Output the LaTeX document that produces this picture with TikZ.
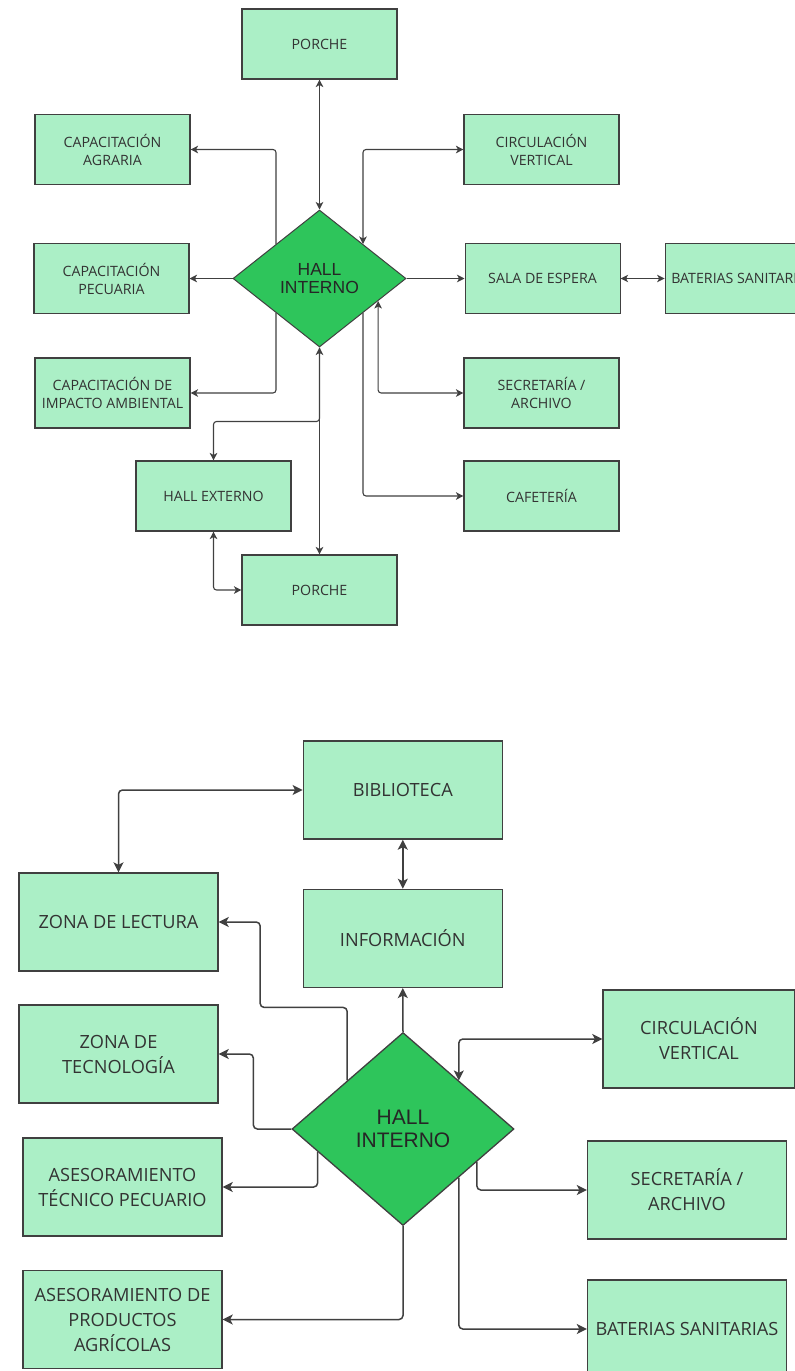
\documentclass[tikz,border=0pt]{standalone}
\usepackage{fontspec}
\setmainfont{Open Sans}
\newfontfamily\hallfont{Liberation Sans}
\usetikzlibrary{arrows.meta,positioning,shapes.geometric}
\definecolor{boxgreen}{HTML}{ABEFC6}
\definecolor{hubgreen}{HTML}{2EC55B}
\definecolor{lnk}{HTML}{404040}
\definecolor{txt}{HTML}{333333}
\begin{document}
\begin{tikzpicture}[x=1pt, y=-1pt,
  bx/.style={draw=lnk, fill=boxgreen, line width=1.1pt, align=center, inner sep=0pt,
             minimum width=155pt, minimum height=70pt, text=txt,
             font=\fontsize{14.2}{18}\selectfont},
  bbx/.style={bx, minimum width=199pt, minimum height=98pt, line width=1.4pt,
             font=\fontsize{18.2}{25}\selectfont},
  hub/.style={diamond, draw=lnk, fill=hubgreen, line width=1pt, inner sep=0pt,
             align=center, text=black!85},
  ar/.style={-{Stealth[length=7.5pt,width=7.5pt,inset=2pt]}, draw=lnk, line width=1.1pt,
             rounded corners=3pt},
  ar2/.style={ar, {Stealth[length=7.5pt,width=7.5pt,inset=2pt]}-{Stealth[length=7.5pt,width=7.5pt,inset=2pt]}},
  bar/.style={-{Stealth[length=10pt,width=10pt,inset=2.5pt]}, draw=lnk, line width=1.5pt,
             rounded corners=4pt},
  bar2/.style={bar, {Stealth[length=10pt,width=10pt,inset=2.5pt]}-{Stealth[length=10pt,width=10pt,inset=2.5pt]}}]
\path[use as bounding box, fill=white] (0,0) rectangle (795,1371);
% upper scheme
\node[hub, minimum width=173pt, minimum height=137pt,
      font=\hallfont\fontsize{17.5}{17.5}\selectfont] (hi1) at (319.5,278.5) {HALL\\INTERNO};
\node[bx] (por1) at (319.5,44) {PORCHE};
\node[bx] (agr) at (112.5,149.5) {CAPACITACIÓN\\AGRARIA};
\node[bx, left=43pt of hi1] (pec) {CAPACITACIÓN\\PECUARIA};
\node[bx] (imp) at (112.5,393) {CAPACITACIÓN DE\\IMPACTO AMBIENTAL};
\node[bx] (circ1) at (541.5,149.5) {CIRCULACIÓN\\VERTICAL};
\node[bx, right=58pt of hi1] (sala) {SALA DE ESPERA};
\node[bx, right=44pt of sala] (bat1) {BATERIAS SANITARIAS};
\node[bx] (sec1) at (541.5,393) {SECRETARÍA /\\ARCHIVO};
\node[bx] (caf) at (541.5,496) {CAFETERÍA};
\node[bx] (hex) at (213.5,496) {HALL EXTERNO};
\node[bx] (por2) at (319.5,590) {PORCHE};
\draw[ar2] (hi1.north) -- (por1.south);
\draw[ar] (hi1.north west) |- (agr.east);
\draw[ar] (hi1.west) -- (pec.east);
\draw[ar] (hi1.south west) |- (imp.east);
\draw[ar2] (hi1.north east) |- (circ1.west);
\draw[ar] (hi1.east) -- (sala.west);
\draw[ar2] (sala.east) -- (bat1.west);
\draw[ar2] (hi1.-21) |- (sec1.west);
\draw[ar] (hi1.south east) |- (caf.west);
\draw[ar2] (hi1.south) -- (por2.north);
\draw[ar] (hi1.south) -- ++(0,74) -| (hex.north);
\draw[ar2] (hex.south) |- (por2.west);
% lower scheme
\node[hub, minimum width=222pt, minimum height=193pt, line width=1.3pt,
      font=\hallfont\fontsize{21}{23}\selectfont] (hi2) at (403,1129) {HALL\\INTERNO};
\node[bbx] (bib) at (402.8,790) {BIBLIOTECA};
\node[bbx, below=49pt of bib] (info) {INFORMACIÓN};
\node[bbx] (lec) at (118.5,922) {ZONA DE LECTURA};
\node[bbx] (tec) at (118.5,1054) {ZONA DE\\TECNOLOGÍA};
\node[bbx] (ate) at (122.5,1187) {ASESORAMIENTO\\TÉCNICO PECUARIO};
\node[bbx] (apa) at (122.5,1319.5) {ASESORAMIENTO DE\\PRODUCTOS\\AGRÍCOLAS};
\node[bbx, minimum width=192pt] (circ2) at (699,1039) {CIRCULACIÓN\\VERTICAL};
\node[bbx] (sec2) at (687,1190) {SECRETARÍA /\\ARCHIVO};
\node[bbx] (bat2) at (687,1329) {BATERIAS SANITARIAS};
\draw[bar2] (bib.west) -| (lec.north);
\draw[bar2] (bib.south) -- (info.north);
\draw[bar] (hi2.north) -- (info.south);
\draw[bar] (hi2.north west) |- ++(-87,-73) |- (lec.east);
\draw[bar] (hi2.west) -- ++(-38,0) |- (tec.east);
\draw[bar] (hi2.195) |- (ate.east);
\draw[bar] (hi2.south) |- (apa.east);
\draw[bar2] (hi2.north east) |- (circ2.west);
\draw[bar] (hi2.-24) |- (sec2.west);
\draw[bar] (hi2.south east) |- (bat2.west);
\end{tikzpicture}
\end{document}
